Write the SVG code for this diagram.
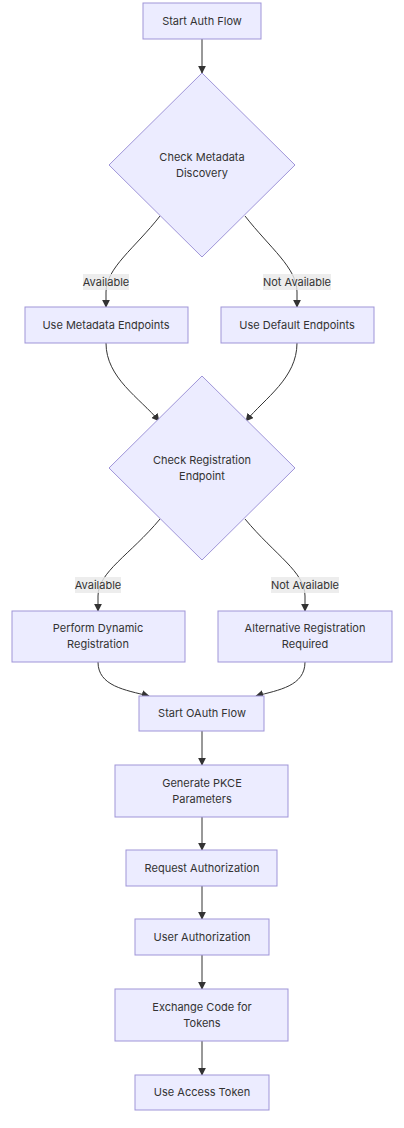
<svg xmlns="http://www.w3.org/2000/svg" width="404" height="1128" viewBox="0 0 404 1128">
<defs>
<marker id="arr" viewBox="0 0 10 10" refX="9" refY="5" markerWidth="8" markerHeight="8" markerUnits="userSpaceOnUse" orient="auto">
<path d="M0,0 L10,5 L0,10 z" fill="#333"/>
</marker>
<style>
.n{fill:#ECECFF;stroke:#9f95d8;stroke-width:1}
.t{font-family:Inter,"Noto Sans",sans-serif;font-size:11px;fill:#333;text-anchor:middle;dominant-baseline:central}
.e{fill:none;stroke:#333;stroke-width:1;marker-end:url(#arr)}
.lb{fill:#e8e8e8;opacity:0.8}
</style>
</defs>
<rect width="404" height="1128" fill="#fff"/>
<g id="connectors">
<path class="e" d="M202,39 L202,73"/>
<path class="e" d="M160,216 C135,248 106,268 106,292 L106,307"/>
<path class="e" d="M245,216 C270,248 297,268 297,292 L297,307"/>
<path class="e" d="M106,343 C106,378 140,398 159,421"/>
<path class="e" d="M297,343 C297,378 265,398 246,421"/>
<path class="e" d="M160,519 C130,555 98,572 98,596 L98,611"/>
<path class="e" d="M245,519 C275,555 305,572 305,596 L305,611"/>
<path class="e" d="M98,662 C98,686 125,690 149,696"/>
<path class="e" d="M305,662 C305,686 279,690 256,696"/>
<path class="e" d="M202,731 L202,765"/>
<path class="e" d="M202,817 L202,850"/>
<path class="e" d="M202,886 L202,919"/>
<path class="e" d="M202,955 L202,989"/>
<path class="e" d="M202,1041 L202,1075"/>
</g>
<g id="labels">
<rect class="lb" x="83" y="274" width="46" height="16"/>
<text class="t" x="106" y="282">Available</text>
<rect class="lb" x="263" y="274" width="68" height="16"/>
<text class="t" x="297" y="282">Not Available</text>
<rect class="lb" x="75" y="577" width="46" height="16"/>
<text class="t" x="98" y="585">Available</text>
<rect class="lb" x="271" y="577" width="68" height="16"/>
<text class="t" x="305" y="585">Not Available</text>
</g>
<g id="start"><rect class="n" x="143" y="3" width="118" height="36"/><text class="t" x="202" y="21">Start Auth Flow</text></g>
<g id="checkMeta"><polygon class="n" points="202,73 295,165 202,257 109,165"/><text class="t" x="202" y="157">Check Metadata</text><text class="t" x="202" y="173">Discovery</text></g>
<g id="useMeta"><rect class="n" x="25" y="307" width="163" height="36"/><text class="t" x="106" y="325">Use Metadata Endpoints</text></g>
<g id="useDefault"><rect class="n" x="221" y="307" width="153" height="36"/><text class="t" x="297" y="325">Use Default Endpoints</text></g>
<g id="checkReg"><polygon class="n" points="202,376 295,468 202,560 109,468"/><text class="t" x="202" y="460">Check Registration</text><text class="t" x="202" y="476">Endpoint</text></g>
<g id="dynReg"><rect class="n" x="12" y="611" width="173" height="51"/><text class="t" x="98" y="628">Perform Dynamic</text><text class="t" x="98" y="644">Registration</text></g>
<g id="altReg"><rect class="n" x="218" y="611" width="174" height="51"/><text class="t" x="305" y="628">Alternative Registration</text><text class="t" x="305" y="644">Required</text></g>
<g id="startOAuth"><rect class="n" x="139" y="696" width="125" height="35"/><text class="t" x="202" y="713">Start OAuth Flow</text></g>
<g id="pkce"><rect class="n" x="115" y="765" width="173" height="52"/><text class="t" x="202" y="783">Generate PKCE</text><text class="t" x="202" y="799">Parameters</text></g>
<g id="reqAuth"><rect class="n" x="126" y="850" width="151" height="36"/><text class="t" x="202" y="868">Request Authorization</text></g>
<g id="userAuth"><rect class="n" x="135" y="919" width="134" height="36"/><text class="t" x="202" y="937">User Authorization</text></g>
<g id="exchange"><rect class="n" x="115" y="989" width="173" height="52"/><text class="t" x="202" y="1007">Exchange Code for</text><text class="t" x="202" y="1023">Tokens</text></g>
<g id="useToken"><rect class="n" x="135" y="1075" width="134" height="35"/><text class="t" x="202" y="1092">Use Access Token</text></g>
</svg>
